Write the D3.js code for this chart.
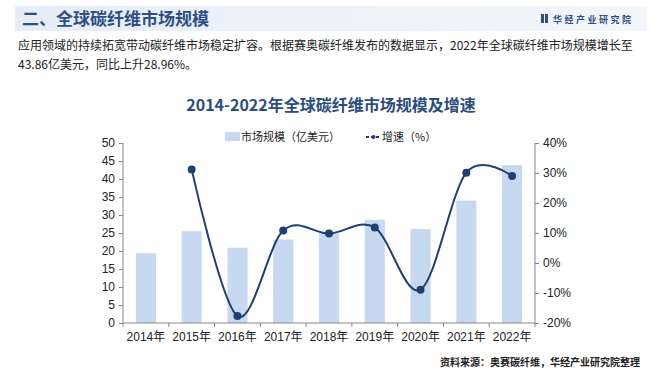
<!DOCTYPE html>
<html>
<head>
<meta charset="utf-8">
<script src="https://cdn.jsdelivr.net/npm/d3@7"></script>
<style>
  body { margin: 0; background: #fff; }
  svg { display: block; font-family: "Noto Sans CJK SC", "Noto Sans", sans-serif; }
</style>
</head>
<body>
<div id="chart"></div>
<script>
// data
const years = ["2014年", "2015年", "2016年", "2017年", "2018年", "2019年", "2020年", "2021年", "2022年"];
const marketSize = [19.4, 25.5, 20.9, 23.2, 24.9, 28.7, 26.1, 34.0, 43.86];
const growth = [null, 31.2, -17.7, 10.8, 9.8, 11.8, -8.9, 30.1, 28.96];
const leftTicks = [0, 5, 10, 15, 20, 25, 30, 35, 40, 45, 50];
const rightTicks = [-20, -10, 0, 10, 20, 30, 40];

const W = 660, H = 374;
const margin = { top: 143, right: 125, bottom: 51, left: 123 };
const width = W - margin.left - margin.right;
const height = H - margin.top - margin.bottom;

const svg = d3.select("#chart").append("svg")
    .attr("width", W)
    .attr("height", H);

// header band
const grad = svg.append("defs").append("linearGradient")
    .attr("id", "band").attr("x1", 0).attr("x2", 1);
grad.append("stop").attr("offset", 0).attr("stop-color", "#e6edf7");
grad.append("stop").attr("offset", 1).attr("stop-color", "#f3f6fb");
svg.append("rect")
    .attr("x", 15).attr("y", 6).attr("width", 632).attr("height", 25)
    .attr("fill", "url(#band)");
svg.append("text")
    .attr("x", 22).attr("y", 25)
    .attr("fill", "#2f4f86")
    .style("font-size", "17px").style("font-weight", "bold")
    .text("二、全球碳纤维市场规模");

// logo on the right of the band
svg.append("rect").attr("x", 541).attr("y", 14).attr("width", 3).attr("height", 9).attr("fill", "#2f4f86");
svg.append("rect").attr("x", 545).attr("y", 14).attr("width", 3).attr("height", 9).attr("fill", "#2f4f86");
svg.append("text")
    .attr("x", 553).attr("y", 23)
    .attr("fill", "#2f4f86")
    .style("font-size", "9px").style("font-weight", "bold").style("letter-spacing", "2.5px")
    .text("华经产业研究院");

// paragraph
svg.append("text")
    .attr("x", 18).attr("y", 50)
    .attr("fill", "#222")
    .style("font-size", "12px")
    .text("应用领域的持续拓宽带动碳纤维市场稳定扩容。根据赛奥碳纤维发布的数据显示，2022年全球碳纤维市场规模增长至");
svg.append("text")
    .attr("x", 18).attr("y", 69)
    .attr("fill", "#222")
    .style("font-size", "12px")
    .text("43.86亿美元，同比上升28.96%。");

// chart title
svg.append("text")
    .attr("x", 331).attr("y", 111)
    .attr("text-anchor", "middle")
    .attr("fill", "#2b4d7e")
    .style("font-size", "16px").style("font-weight", "bold")
    .text("2014-2022年全球碳纤维市场规模及增速");

const g = svg.append("g")
    .attr("transform", `translate(${margin.left},${margin.top})`);

const x = d3.scaleBand()
    .domain(years)
    .range([0, width])
    .paddingInner(0.56)
    .paddingOuter(0.28);

const yLeft = d3.scaleLinear().domain([0, 50]).range([height, 0]);
const yRight = d3.scaleLinear().domain([-20, 40]).range([height, 0]);

const barColor = "#c6d9f0";
const lineColor = "#1f3f73";

// bars
g.selectAll(".bar")
    .data(years)
    .enter()
    .append("rect")
    .attr("class", "bar")
    .attr("x", d => x(d))
    .attr("width", x.bandwidth())
    .attr("y", (d, i) => yLeft(marketSize[i]))
    .attr("height", (d, i) => height - yLeft(marketSize[i]))
    .attr("fill", barColor);

// axes
const axisColor = "#888";
const leftAxis = g.append("g")
    .call(d3.axisLeft(yLeft).tickValues(leftTicks).tickSize(4).tickPadding(4));
const rightAxis = g.append("g")
    .attr("transform", `translate(${width},0)`)
    .call(d3.axisRight(yRight).tickValues(rightTicks).tickSize(4).tickPadding(4).tickFormat(d => d + "%"));
const bottomAxis = g.append("g")
    .attr("transform", `translate(0,${height})`)
    .call(d3.axisBottom(x).tickSize(0).tickPadding(9));

[leftAxis, rightAxis, bottomAxis].forEach(a => {
    a.selectAll("path").attr("stroke", axisColor).attr("d", null);
    a.selectAll("line").attr("stroke", axisColor);
    a.selectAll("text").attr("fill", "#222").style("font-size", "12px")
        .style("font-family", "'Liberation Sans', 'Noto Sans CJK SC', sans-serif");
});
leftAxis.select("path").attr("d", `M0,0V${height}`);
rightAxis.select("path").attr("d", `M0,0V${height}`);
bottomAxis.select("path").attr("d", `M0,0H${width}`);

// category separator ticks on the x axis
const step = x.step();
const sepX = d3.range(years.length + 1).map(i => x(years[0]) - x.paddingInner() * step / 2 + i * step);
g.selectAll(".sep")
    .data(sepX)
    .enter()
    .append("line")
    .attr("x1", d => d).attr("x2", d => d)
    .attr("y1", height).attr("y2", height + 4)
    .attr("stroke", axisColor);

// growth line
const pts = years.map((d, i) => ({ year: d, v: growth[i] })).filter(d => d.v !== null);
const line = d3.line()
    .x(d => x(d.year) + x.bandwidth() / 2)
    .y(d => yRight(d.v))
    .curve(d3.curveCardinal.tension(0));

g.append("path")
    .datum(pts)
    .attr("fill", "none")
    .attr("stroke", lineColor)
    .attr("stroke-width", 2)
    .attr("d", line);

g.selectAll(".dot")
    .data(pts)
    .enter()
    .append("circle")
    .attr("cx", d => x(d.year) + x.bandwidth() / 2)
    .attr("cy", d => yRight(d.v))
    .attr("r", 4)
    .attr("fill", lineColor);

// legend
const legend = svg.append("g").attr("transform", "translate(225,137)");
legend.append("rect")
    .attr("x", 0).attr("y", -5).attr("width", 15).attr("height", 9)
    .attr("fill", barColor);
legend.append("text")
    .attr("x", 16).attr("y", 4)
    .attr("fill", "#222").style("font-size", "11px")
    .text("市场规模（亿美元）");
legend.append("line")
    .attr("x1", 141).attr("x2", 156).attr("y1", 0).attr("y2", 0)
    .attr("stroke", lineColor).attr("stroke-width", 2).attr("stroke-dasharray", "3,2");
legend.append("circle")
    .attr("cx", 148.5).attr("cy", 0).attr("r", 2)
    .attr("fill", lineColor);
legend.append("text")
    .attr("x", 157).attr("y", 4)
    .attr("fill", "#222").style("font-size", "11px")
    .text("增速（%）");

// source
svg.append("text")
    .attr("x", 640).attr("y", 366)
    .attr("text-anchor", "end")
    .attr("fill", "#222")
    .style("font-size", "10px").style("font-weight", "bold")
    .text("资料来源：奥赛碳纤维，华经产业研究院整理");
</script>
</body>
</html>
